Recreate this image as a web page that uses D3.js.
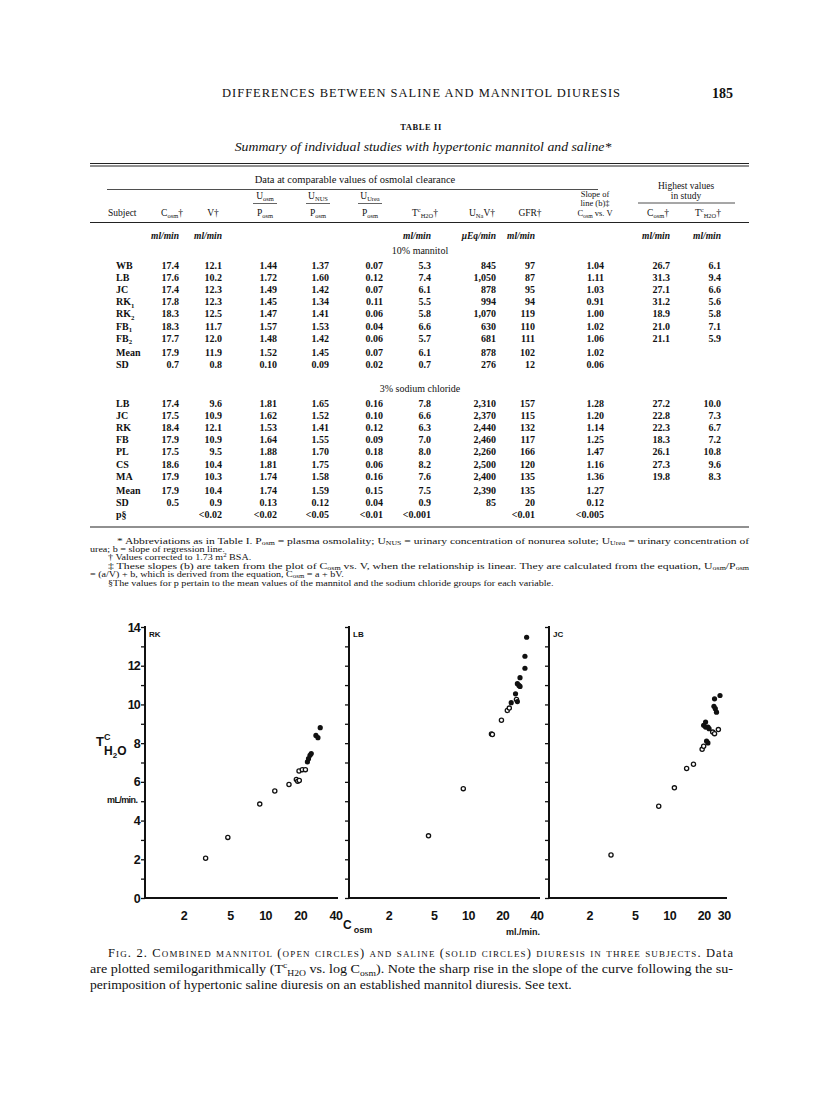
<!DOCTYPE html>
<html><head><meta charset="utf-8">
<script src="https://cdn.jsdelivr.net/npm/d3@7"></script>
<style>body{margin:0;background:#fff}svg{display:block}</style>
</head><body>
<script>
// ---------------- DATA ----------------
const pageTitle = "DIFFERENCES BETWEEN SALINE AND MANNITOL DIURESIS";
const pageNumber = "185";
const tableLabel = "TABLE II";
const tableTitle = "Summary of individual studies with hypertonic mannitol and saline*";
const groupHeader = "Data at comparable values of osmolal clearance";
const highestHeader = ["Highest  values", "in study"];
const fractionNumerators = ["U_{osm}", "U_{NUS}", "U_{Urea}"];
const columnHeaders = ["Subject", "C_{osm}†", "V†", "P_{osm}", "P_{osm}", "P_{osm}", "T^{c}_{H2O}†", "U_{Na}V†", "GFR†", "C_{osm} vs. V", "C_{osm}†", "T^{c}_{H2O}†"];
const slopeHeader = ["Slope  of", "line (b)‡"];
const unitRow = ["", "ml/min", "ml/min", "", "", "", "ml/min", "μEq/min", "ml/min", "", "ml/min", "ml/min"];
const mannitolLabel = "10% mannitol";
const mannitolRows = [
  ["WB", "17.4", "12.1", "1.44", "1.37", "0.07", "5.3", "845", "97", "1.04", "26.7", "6.1"],
  ["LB", "17.6", "10.2", "1.72", "1.60", "0.12", "7.4", "1,050", "87", "1.11", "31.3", "9.4"],
  ["JC", "17.4", "12.3", "1.49", "1.42", "0.07", "6.1", "878", "95", "1.03", "27.1", "6.6"],
  ["RK_{1}", "17.8", "12.3", "1.45", "1.34", "0.11", "5.5", "994", "94", "0.91", "31.2", "5.6"],
  ["RK_{2}", "18.3", "12.5", "1.47", "1.41", "0.06", "5.8", "1,070", "119", "1.00", "18.9", "5.8"],
  ["FB_{1}", "18.3", "11.7", "1.57", "1.53", "0.04", "6.6", "630", "110", "1.02", "21.0", "7.1"],
  ["FB_{2}", "17.7", "12.0", "1.48", "1.42", "0.06", "5.7", "681", "111", "1.06", "21.1", "5.9"]
];
const mannitolSummary = [
  ["Mean", "17.9", "11.9", "1.52", "1.45", "0.07", "6.1", "878", "102", "1.02", "", ""],
  ["SD", "0.7", "0.8", "0.10", "0.09", "0.02", "0.7", "276", "12", "0.06", "", ""]
];
const salineLabel = "3% sodium chloride";
const salineRows = [
  ["LB", "17.4", "9.6", "1.81", "1.65", "0.16", "7.8", "2,310", "157", "1.28", "27.2", "10.0"],
  ["JC", "17.5", "10.9", "1.62", "1.52", "0.10", "6.6", "2,370", "115", "1.20", "22.8", "7.3"],
  ["RK", "18.4", "12.1", "1.53", "1.41", "0.12", "6.3", "2,440", "132", "1.14", "22.3", "6.7"],
  ["FB", "17.9", "10.9", "1.64", "1.55", "0.09", "7.0", "2,460", "117", "1.25", "18.3", "7.2"],
  ["PL", "17.5", "9.5", "1.88", "1.70", "0.18", "8.0", "2,260", "166", "1.47", "26.1", "10.8"],
  ["CS", "18.6", "10.4", "1.81", "1.75", "0.06", "8.2", "2,500", "120", "1.16", "27.3", "9.6"],
  ["MA", "17.9", "10.3", "1.74", "1.58", "0.16", "7.6", "2,400", "135", "1.36", "19.8", "8.3"]
];
const salineSummary = [
  ["Mean", "17.9", "10.4", "1.74", "1.59", "0.15", "7.5", "2,390", "135", "1.27", "", ""],
  ["SD", "0.5", "0.9", "0.13", "0.12", "0.04", "0.9", "85", "20", "0.12", "", ""],
  ["p§", "", "<0.02", "<0.02", "<0.05", "<0.01", "<0.001", "", "<0.01", "<0.005", "", ""]
];
const footnotes = [
  "* Abbreviations as in Table I.    P_{osm} = plasma osmolality; U_{NUS} = urinary concentration of nonurea solute; U_{Urea} = urinary concentration of",
  "urea; b = slope of regression line.",
  "† Values corrected to 1.73 m^{2} BSA.",
  "‡ These slopes (b) are taken from the plot of C_{osm} vs. V, when the relationship is linear.    They are calculated from the equation, U_{osm}/P_{osm}",
  "= (a/V) + b, which is derived from the equation, C_{osm} = a + bV.",
  "§The values for p pertain to the mean values of the mannitol and the sodium chloride groups for each variable."
];

// Figure 2 data: [Cosm (ml/min), TcH2O (ml/min)]
const rkOpen = [[3.1,2.05],[4.8,3.13],[9.0,4.85],[12.1,5.53],[16.0,5.86],[18.5,6.12],[19.0,6.03],[19.6,6.07],[19.5,6.56],[20.8,6.63],[22.1,6.63]];
const rkSolid = [[23.0,7.03],[23.5,7.2],[24.2,7.37],[24.8,7.46],[27.2,8.4],[28.3,8.28],[29.6,8.8]];
const lbOpen = [[4.5,3.21],[9.1,5.65],[16.1,8.47],[16.4,8.45],[19.7,9.18],[22.2,9.69],[23.1,9.81],[26.7,10.26]];
const lbSolid = [[24.0,10.09],[26.2,10.55],[27.2,10.15],[27.2,11.07],[28.1,10.98],[28.7,10.93],[28.7,11.38],[31.7,11.87],[31.7,12.49],[32.8,13.47]];
const jcOpen = [[3.1,2.22],[8.1,4.74],[11.1,5.69],[14.2,6.69],[16.3,6.91],[19.4,7.68],[20.0,7.84],[24.0,8.57],[24.9,8.49],[26.9,8.70]];
const jcSolid = [[21.2,8.11],[21.8,8.01],[20.8,9.09],[20.0,8.92],[20.8,8.83],[21.8,8.83],[22.3,8.75],[24.6,9.90],[25.3,9.78],[25.9,9.60],[24.9,10.29],[27.8,10.46]];
const panelNames = ["RK", "LB", "JC"];
const xTicksAB = [2, 5, 10, 20, 40];
const xTicksC = [2, 5, 10, 20, 30];
const yTickLabels = [0, 2, 4, 6, 8, 10, 12, 14];
const yMinorTicks = d3.range(0, 15);
const captionLines = [
  "are plotted semilogarithmically (T^{c}_{H2O} vs. log C_{osm}).  Note the sharp rise in the slope of the curve following the su-",
  "perimposition of hypertonic saline diuresis on an established mannitol diuresis.  See text."
];

// ---------------- DRAWING ----------------
const SERIF = "'Liberation Serif','Times New Roman',serif";
const SANS = "'Liberation Sans',Arial,sans-serif";
const svg = d3.select("body").append("svg").attr("width", 816).attr("height", 1100);
svg.append("rect").attr("width", 816).attr("height", 1100).attr("fill", "#fff");

function rich(sel, str, fs, subK = 0.25) {
  const parts = str.split(/(\^\{[^}]*\}|_\{[^}]*\})/).filter(s => s !== "");
  let shift = 0;
  parts.forEach(p => {
    let t = p, target = 0, size = fs;
    if (p.startsWith("^{")) { t = p.slice(2, -1); target = -0.38 * fs; size = fs * 0.68; }
    else if (p.startsWith("_{")) { t = p.slice(2, -1); target = subK * fs; size = fs * 0.68; }
    sel.append("tspan").attr("dy", target - shift).attr("font-size", size).text(t);
    shift = target;
  });
  return sel;
}
function txt(x, y, str, o = {}) {
  const t = svg.append("text").attr("x", x).attr("y", y)
    .attr("font-family", o.family || SERIF).attr("font-size", o.size || 10)
    .attr("text-anchor", o.anchor || "start").attr("fill", "#111");
  if (o.weight) t.attr("font-weight", o.weight);
  if (o.italic) t.attr("font-style", "italic");
  if (o.spacing) t.attr("letter-spacing", o.spacing);
  rich(t, str, o.size || 10, o.subK);
  if (o.len) t.attr("textLength", o.len).attr("lengthAdjust", o.adjust || "spacing");
  else if (o.wide) {
    const w = t.node().getComputedTextLength();
    t.attr("textLength", w * o.wide).attr("lengthAdjust", "spacingAndGlyphs");
  }
  return t;
}
function hline(x1, x2, y, w = 0.8) {
  svg.append("line").attr("x1", x1).attr("x2", x2).attr("y1", y).attr("y2", y)
    .attr("stroke", "#222").attr("stroke-width", w);
}

// Page header
txt(421, 97, pageTitle, { size: 12.5, anchor: "middle", len: 398 });
txt(733, 98, pageNumber, { size: 14, anchor: "end", weight: "bold" });
txt(421, 130, tableLabel, { size: 8.5, anchor: "middle", weight: "bold", spacing: 0.6 });
txt(423, 151, tableTitle, { size: 13, anchor: "middle", italic: true, wide: 1.06 });

// Table rules
hline(90, 749, 163.5, 1);
hline(90, 749, 166, 1);
txt(355, 183, groupHeader, { size: 10.5, anchor: "middle" });
hline(107, 598, 189.5);
txt(686, 188.5, highestHeader[0], { size: 9.5, anchor: "middle" });
txt(686, 198.5, highestHeader[1], { size: 9.5, anchor: "middle" });
hline(638, 735, 203);

// columns: right edges for values, centers for headers
const colRight = [0, 179, 222, 277, 329, 383, 431, 496, 535, 604, 670, 721];
const colCenter = [126, 172, 213, 265, 318, 370, 425, 482, 530, 595, 658, 708];
fractionNumerators.forEach((s, i) => {
  const c = colCenter[3 + i];
  txt(c, 199, s, { size: 9.5, anchor: "middle" });
  hline(c - 12, c + 12, 203.5, 0.7);
});
txt(595, 197, slopeHeader[0], { size: 8.5, anchor: "middle" });
txt(595, 206.3, slopeHeader[1], { size: 8.5, anchor: "middle" });
columnHeaders.forEach((s, i) => {
  txt(i === 0 ? 108 : colCenter[i], 216, s, { size: i === 9 ? 8.5 : 9.5, anchor: i === 0 ? "start" : "middle" });
});
hline(90, 749, 222.5, 1);
unitRow.forEach((s, i) => {
  if (s) txt(colRight[i], 239, s, { size: 9.5, anchor: "end", italic: true, weight: "bold" });
});
txt(420, 254, mannitolLabel, { size: 10, anchor: "middle" });

function drawRows(rows, y0, step) {
  rows.forEach((r, ri) => {
    const yy = y0 + ri * step;
    r.forEach((v, ci) => {
      if (!v) return;
      if (ci === 0) txt(116, yy, v, { size: 10, weight: "bold" });
      else txt(colRight[ci], yy, v, { size: 10, anchor: "end", weight: "bold" });
    });
  });
}
drawRows(mannitolRows, 268.5, 12.2);
drawRows(mannitolSummary, 355.5, 12.2);
txt(420, 392, salineLabel, { size: 10, anchor: "middle" });
drawRows(salineRows, 406.5, 12.2);
drawRows(salineSummary, 493.5, 12.2);
hline(90, 749, 527, 1.2);

// Footnotes
const fnX = [117, 90, 108, 108, 90, 108];
const fnY = [543.5, 552, 560, 568.5, 577, 585.5];
footnotes.forEach((s, i) => {
  const o = { size: 9, subK: 0.15 };
  if (i === 0 || i === 3) { o.len = 749 - fnX[i]; o.adjust = "spacingAndGlyphs"; }
  else o.wide = 1.12;
  txt(fnX[i], fnY[i], s, o);
});

// ---------------- FIGURE ----------------
const y = d3.scaleLinear().domain([0, 14]).range([898, 627]);
const panels = [
  { name: panelNames[0], x: d3.scaleLog().domain([0.94, 42]).range([145, 338]), ticks: xTicksAB, open: rkOpen, solid: rkSolid, labels: true },
  { name: panelNames[1], x: d3.scaleLog().domain([0.9, 43]).range([349, 540]), ticks: xTicksAB, open: lbOpen, solid: lbSolid },
  { name: panelNames[2], x: d3.scaleLog().domain([0.89, 32]).range([549, 727]), ticks: xTicksC, open: jcOpen, solid: jcSolid }
];
panels.forEach(p => {
  const g = svg.append("g");
  const x0 = p.x.range()[0], x1 = p.x.range()[1];
  const ya = g.append("g").attr("transform", `translate(${x0},0)`)
    .call(d3.axisLeft(y).tickValues(yMinorTicks).tickSize(4).tickFormat(""));
  ya.select(".domain").remove();
  ya.selectAll("line").attr("stroke", "#111").attr("stroke-width", 1.3);
  g.append("line").attr("x1", x0).attr("x2", x0).attr("y1", y(14) - 1).attr("y2", y(0) + 1)
    .attr("stroke", "#111").attr("stroke-width", 2);
  g.append("line").attr("x1", x0).attr("x2", x1).attr("y1", y(0)).attr("y2", y(0))
    .attr("stroke", "#111").attr("stroke-width", 2);
  if (p.labels) {
    yTickLabels.forEach(v => {
      g.append("text").attr("x", x0 - 5).attr("y", y(v) + 4.5).attr("text-anchor", "end")
        .attr("font-family", SANS).attr("font-size", 12.5).attr("font-weight", "bold")
        .attr("letter-spacing", -0.8).attr("fill", "#111").text(v);
    });
  }
  const xa = g.append("g").attr("transform", `translate(0,${y(0)})`)
    .call(d3.axisBottom(p.x).tickValues(p.ticks).tickSize(0).tickPadding(13).tickFormat(d3.format("d")));
  xa.select(".domain").remove();
  xa.selectAll("text").attr("font-family", SANS).attr("font-size", 12.5).attr("font-weight", "bold")
    .attr("letter-spacing", -0.5).attr("fill", "#111");
  g.append("text").attr("x", x0 + 4).attr("y", y(14) + 10).attr("font-family", SANS)
    .attr("font-size", 8).attr("font-weight", "bold").attr("fill", "#111").text(p.name);
  g.selectAll("circle.o").data(p.open).join("circle").attr("class", "o")
    .attr("cx", d => p.x(d[0])).attr("cy", d => y(d[1])).attr("r", 2.1)
    .attr("fill", "#fff").attr("stroke", "#111").attr("stroke-width", 1.3);
  g.selectAll("circle.s").data(p.solid).join("circle").attr("class", "s")
    .attr("cx", d => p.x(d[0])).attr("cy", d => y(d[1])).attr("r", 2.6)
    .attr("fill", "#111");
});
const ty = svg.append("text").attr("x", 96).attr("y", 746).attr("font-family", SANS)
  .attr("font-size", 13).attr("font-weight", "bold").attr("fill", "#111");
ty.append("tspan").text("T");
ty.append("tspan").attr("dy", -6).attr("font-size", 9).text("C");
const ty2 = svg.append("text").attr("x", 104).attr("y", 755).attr("font-family", SANS)
  .attr("font-size", 12).attr("font-weight", "bold").attr("fill", "#111");
ty2.append("tspan").text("H");
ty2.append("tspan").attr("dy", 3).attr("font-size", 8).text("2");
ty2.append("tspan").attr("dy", -3).text("O");
svg.append("text").attr("x", 107).attr("y", 803).attr("font-family", SANS).attr("font-size", 9)
  .attr("font-weight", "bold").attr("letter-spacing", -0.6).attr("fill", "#111").text("mL/min.");
const tx = svg.append("text").attr("x", 343).attr("y", 929).attr("font-family", SANS)
  .attr("font-size", 12).attr("font-weight", "bold").attr("fill", "#111");
tx.append("tspan").text("C");
tx.append("tspan").attr("dx", 2).attr("dy", 4).attr("font-size", 9).text("osm");
svg.append("text").attr("x", 506).attr("y", 935).attr("font-family", SANS).attr("font-size", 9)
  .attr("font-weight", "bold").attr("fill", "#111").text("ml./min.");

// Caption
const cap1 = svg.append("text").attr("x", 108).attr("y", 957).attr("font-family", SERIF)
  .attr("font-size", 12.5).attr("fill", "#111").attr("textLength", 625).attr("lengthAdjust", "spacing");
cap1.append("tspan").style("font-variant", "small-caps")
  .text("Fig. 2. Combined mannitol (open circles) and saline (solid circles) diuresis in three subjects.");
cap1.append("tspan").text("  Data");
txt(90, 973, captionLines[0], { size: 12.5, len: 643, adjust: "spacingAndGlyphs" });
txt(90, 989, captionLines[1], { size: 12.5, wide: 1.09 });
</script>
</body></html>
